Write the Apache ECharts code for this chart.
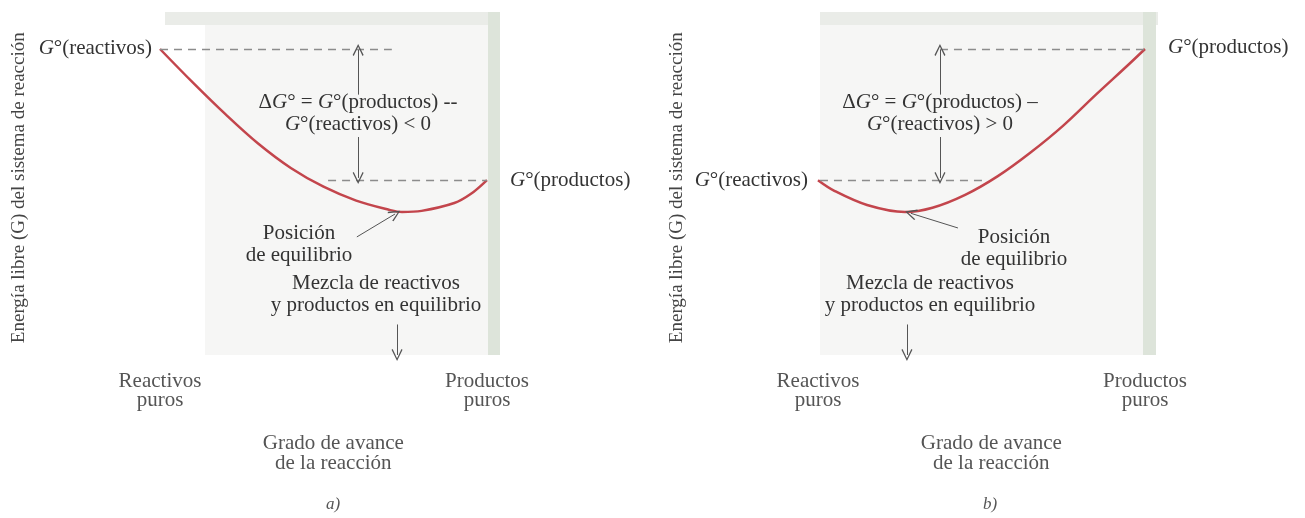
<!DOCTYPE html>
<html>
<head>
<meta charset="utf-8">
<script src="https://cdn.jsdelivr.net/npm/echarts@6/dist/echarts.min.js"></script>
<style>
  html, body { margin: 0; padding: 0; background: #fff; }
  #chart { width: 1305px; height: 518px; }
</style>
</head>
<body>
<div id="chart"></div>
<script>
// grado de avance: 0 = reactivos puros, 1 = productos puros
var avanceA = [0, 0.1, 0.2, 0.3, 0.4, 0.5, 0.6, 0.7, 0.74, 0.8, 0.9, 0.95, 1];
var energiaA = [100, 79.5, 60, 42, 27, 15.5, 7, 1.4, 0, 0.7, 5.5, 11, 19.6];
var avanceB = [0, 0.05, 0.15, 0.266, 0.35, 0.45, 0.55, 0.65, 0.75, 0.85, 0.95, 1];
var energiaB = [19.5, 13, 4.3, 0, 2.6, 10.5, 22, 36.5, 53, 72, 90.5, 100];

// extremos de la escala x
var etiquetasX = ["Reactivos\npuros", "Productos\npuros"];

// lineas discontinuas de G°
var guiasA = [[[0, 100], [0.709, 100]], [[0.514, 19.6], [1, 19.6]]];
var guiasB = [[[0.373, 100], [1, 100]], [[0.006, 19.5], [0.511, 19.5]]];

// flechas [desde, hasta]
var flechasA = [
  [[0.606, 72], [0.606, 99.4]],
  [[0.606, 46], [0.606, 20.9]],
  [[0.602, -15.3], [0.719, -1.2]],
  [[0.725, -69], [0.725, -87.7]]
];
var flechasB = [
  [[0.373, 72], [0.373, 99.4]],
  [[0.373, 46], [0.373, 20.9]],
  [[0.428, -9.8], [0.284, -0.8]],
  [[0.272, -69], [0.272, -87.7]]
];

var fuente = "Liberation Serif";
var rojo = "#c3454c";
var punta = "path://M0,0 L-5,10 L-4,10.8 L0,2.4 L4,10.8 L5,10 Z";

var chart = echarts.init(document.getElementById("chart"));

function pares(xs, ys) {
  return xs.map(function (x, i) { return [x, ys[i]]; });
}

function tramos(lista) {
  return lista.map(function (p) {
    return [{ coord: p[0] }, { coord: p[1] }];
  });
}

function ejeX(i) {
  return {
    gridIndex: i, type: "value", min: -0.1, max: 1.16,
    axisLine: { show: false }, axisTick: { show: false }, splitLine: { show: false },
    axisLabel: {
      customValues: [0, 1], margin: 13, color: "#555",
      fontFamily: fuente, fontSize: 21, lineHeight: 19,
      formatter: function (v) { return v === 0 ? etiquetasX[0] : etiquetasX[1]; }
    },
    name: "Grado de avance\nde la reacción", nameLocation: "middle", nameGap: 75,
    nameTextStyle: { color: "#555", fontFamily: fuente, fontSize: 21, lineHeight: 20 }
  };
}

function ejeY(i) {
  return {
    gridIndex: i, type: "value", min: -90, max: 110,
    axisLine: { show: false }, axisTick: { show: false }, splitLine: { show: false },
    axisLabel: { show: false },
    name: "Energía libre (G) del sistema de reacción", nameLocation: "middle",
    nameRotate: 90, nameGap: 99,
    nameTextStyle: { color: "#444", fontFamily: fuente, fontSize: 19, padding: [0, 0, 0, 16] }
  };
}

function curva(i, datos, guias, flechas) {
  return [
    {
      type: "line", xAxisIndex: i, yAxisIndex: i, data: datos,
      smooth: 0.35, showSymbol: false, clip: false,
      lineStyle: { color: rojo, width: 2.5 }, silent: true,
      markLine: {
        silent: true, symbol: "none", label: { show: false },
        lineStyle: { color: "#8c8c8c", width: 1.3, type: [8, 6] },
        data: tramos(guias)
      }
    },
    {
      type: "line", xAxisIndex: i, yAxisIndex: i, data: [],
      markLine: {
        silent: true, symbol: ["none", punta], symbolSize: [11, 12],
        label: { show: false },
        lineStyle: { color: "#555", width: 1, type: "solid" },
        data: tramos(flechas)
      }
    }
  ];
}

var estilo = {
  n: { fontFamily: fuente, fontSize: 21, color: "#333" },
  i: { fontFamily: fuente, fontSize: 21, color: "#333", fontStyle: "italic" }
};

function texto(x, y, str, alinear, extra) {
  var s = {
    text: str, x: x, y: y,
    fontFamily: fuente, fontSize: 21, fill: "#333",
    align: alinear || "center", textAlign: alinear || "center",
    verticalAlign: "middle", textVerticalAlign: "middle",
    lineHeight: 22, rich: estilo
  };
  if (extra) Object.assign(s, extra);
  return { type: "text", z: 10, silent: true, style: s };
}

function fondo(x, y, w, h, color) {
  return { type: "rect", z: -1, silent: true, shape: { x: x, y: y, width: w, height: h }, style: { fill: color } };
}

chart.setOption({
  animation: false,
  backgroundColor: "#fff",
  grid: [
    { left: 127.3, top: 32.7, width: 412, height: 326 },
    { left: 785.3, top: 32.7, width: 412, height: 326 }
  ],
  xAxis: [ejeX(0), ejeX(1)],
  yAxis: [ejeY(0), ejeY(1)],
  series: curva(0, pares(avanceA, energiaA), guiasA, flechasA)
    .concat(curva(1, pares(avanceB, energiaB), guiasB, flechasB)),
  graphic: [
    fondo(205, 25, 283, 330, "#f6f6f5"),
    fondo(165, 12, 333, 13, "#eaece8"),
    fondo(488, 12, 12, 343, "#dde4da"),
    fondo(820, 25, 323, 330, "#f6f6f5"),
    fondo(820, 12, 338, 13, "#eaece8"),
    fondo(1143, 12, 13, 343, "#dde4da"),

    texto(152, 48, "{i|G}{n|°(reactivos)}", "right"),
    texto(358, 113, "{n|Δ}{i|G}{n|° = }{i|G}{n|°(productos) --}\n{i|G}{n|°(reactivos) < 0}"),
    texto(510, 180, "{i|G}{n|°(productos)}", "left"),
    texto(299, 244, "Posición\nde equilibrio"),
    texto(376, 294, "Mezcla de reactivos\ny productos en equilibrio"),
    texto(333, 505, "a)", "center", { fontStyle: "italic", fontSize: 17, fill: "#555" }),

    texto(808, 180, "{i|G}{n|°(reactivos)}", "right"),
    texto(940, 113, "{n|Δ}{i|G}{n|° = }{i|G}{n|°(productos) –}\n{i|G}{n|°(reactivos) > 0}"),
    texto(1168, 47, "{i|G}{n|°(productos)}", "left"),
    texto(1014, 248, "Posición\nde equilibrio"),
    texto(930, 294, "Mezcla de reactivos\ny productos en equilibrio"),
    texto(990, 505, "b)", "center", { fontStyle: "italic", fontSize: 17, fill: "#555" })
  ]
});
</script>
</body>
</html>
